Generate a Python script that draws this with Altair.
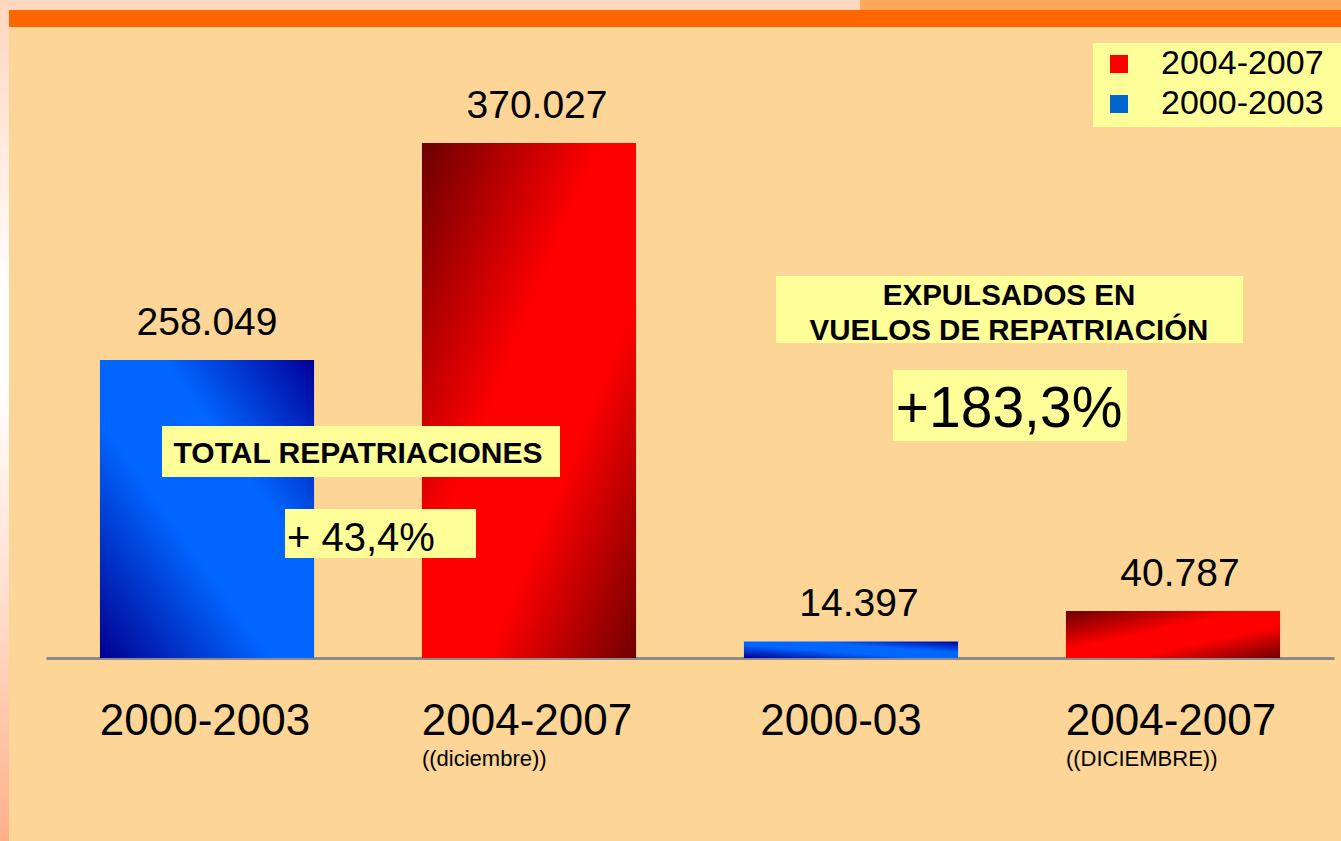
import altair as alt
import pandas as pd

FONT = "Liberation Sans, Arial, sans-serif"

# ---- data ----
cat_labels = ["2000-2003", "2004-2007", "2000-03", "2004-2007"]
cat_notes = ["", "((diciembre))", "", "((DICIEMBRE))"]
periods = ["2000-2003", "2004-2007", "2000-2003", "2004-2007"]
groups = ["total", "total", "vuelos", "vuelos"]
values = [258049, 370027, 14397, 40787]

legend_periods = ["2004-2007", "2000-2003"]
legend_colors = ["#FF0000", "#0066CC"]

group_titles = ["TOTAL REPATRIACIONES", ["EXPULSADOS EN", "VUELOS DE REPATRIACIÓN"]]
group_changes = ["+ 43,4%", "+183,3%"]

keys = [f"{a}|{b}|{i}" for i, (a, b) in enumerate(zip(cat_labels, cat_notes))]

df = pd.DataFrame({
    "key": keys,
    "label": cat_labels,
    "note": cat_notes,
    "period": periods,
    "group": groups,
    "value": values,
})

# value scales (the two groups are drawn at different scales in the original)
domains = {"total": [104278, 443824], "vuelos": [0, 572000]}

blue_grad = alt.LinearGradient(
    gradient="linear", x1=0, y1=1, x2=1, y2=0,
    stops=[alt.GradientStop(color="#000090", offset=0),
           alt.GradientStop(color="#0066FF", offset=0.4),
           alt.GradientStop(color="#0066FF", offset=0.65),
           alt.GradientStop(color="#000099", offset=1)])
red_grad = alt.LinearGradient(
    gradient="linear", x1=0, y1=0, x2=1, y2=1,
    stops=[alt.GradientStop(color="#6B0000", offset=0),
           alt.GradientStop(color="#FF0000", offset=0.42),
           alt.GradientStop(color="#FF0000", offset=0.65),
           alt.GradientStop(color="#700000", offset=1)])
grads = {"2000-2003": blue_grad, "2004-2007": red_grad}

x_axis = alt.Axis(title=None, labelExpr="split(datum.value, '|')[0]",
                  labelAngle=0, labelFontSize=44, labelFont=FONT, labelColor="black",
                  labelBaseline="alphabetic", labelPadding=76, ticks=False, tickSize=0,
                  labelOffset={"condition": {"test": f"datum.value == '{keys[2]}'", "value": -10},
                               "value": -2},
                  grid=False, domainColor="#8A8A8A", domainWidth=3, labelLimit=0,
                  labelOverlap=False)
x_scale = alt.Scale(domain=keys, paddingInner=0.335, paddingOuter=0.1675)


def x_enc(**kw):
    return alt.X("key:N", sort=keys, scale=x_scale, axis=x_axis, **kw)


base = alt.Chart(df).transform_calculate(
    txt="replace(format(datum.value, ','), ',', '.')")

one = pd.DataFrame({"k": [0]})


def deco_rect(x, x2, y, y2, color):
    return alt.Chart(one).mark_rect(x=x, x2=x2, y=y, y2=y2, color=color).encode(
        opacity=alt.value(1))


left_grad = alt.LinearGradient(
    gradient="linear", x1=0, y1=0, x2=0, y2=1,
    stops=[alt.GradientStop(color="#FFD6BE", offset=0),
           alt.GradientStop(color="#FFFFFF", offset=0.35),
           alt.GradientStop(color="#FFFFFF", offset=0.45),
           alt.GradientStop(color="#FFE0CF", offset=0.7),
           alt.GradientStop(color="#FFB08A", offset=1)])

layers = [
    deco_rect(-46, 814, 0, 10, "#FFD8C2"),
    deco_rect(814, 1295, 0, 10, "#FFAA5A"),
    deco_rect(-46, -37, 0, 841, left_grad),
    deco_rect(-37, 1295, 10, 27, "#FF6600"),
]

dxs = {("total", "2000-2003"): 0, ("total", "2004-2007"): 8,
       ("vuelos", "2000-2003"): 8, ("vuelos", "2004-2007"): 7}

for g in ["total", "vuelos"]:
    for p in ["2000-2003", "2004-2007"]:
        sub = base.transform_filter(f"datum.group == '{g}' && datum.period == '{p}'")
        y_enc = alt.Y("value:Q", scale=alt.Scale(domain=domains[g], zero=(g == "vuelos"),
                                                  nice=False, clamp=True),
                      axis=None)
        layers.append(sub.mark_bar(color=grads[p]).encode(x=x_enc(), y=y_enc))
        layers.append(sub.mark_text(baseline="alphabetic", dy=-25, dx=dxs[(g, p)], fontSize=39,
                                    font=FONT, color="black").encode(x=x_enc(), y=y_enc, text="txt:N"))

# notes under the category labels
layers.append(base.transform_filter("datum.note != ''").mark_text(
    align="left", baseline="alphabetic", fontSize=22, font=FONT, color="black", y=766
).encode(x=x_enc(bandPosition=0), text="note:N"))

BOX = "#FFFF99"
# annotation boxes
layers += [
    deco_rect(116, 514, 426, 477, BOX),
    deco_rect(239, 430, 509, 558, BOX),
    deco_rect(730, 1197, 276, 343, BOX),
    deco_rect(847, 1081, 370, 441, BOX),
    deco_rect(1047, 1295, 43, 127, BOX),
]


def note_text(text, x, y, size, weight="normal", align="center", lh=None):
    kw = dict(text=text, x=x, y=y, fontSize=size, fontWeight=weight, align=align,
              baseline="alphabetic", font=FONT, color="black")
    if lh:
        kw["lineHeight"] = lh
    return alt.Chart(one).mark_text(**kw).encode(opacity=alt.value(1))


layers += [
    note_text(group_titles[0], 312, 463, 30, "bold"),
    note_text(group_changes[0], 241, 551, 40, align="left"),
    note_text(group_titles[1], 963, 305, 29.5, "bold", lh=35),
    note_text(group_changes[1], 963, 427, 57),
]

legend_layer = alt.Chart(df).transform_filter("false").mark_square(filled=True, opacity=1).encode(
    color=alt.Color("period:N",
                    scale=alt.Scale(domain=legend_periods, range=legend_colors),
                    legend=alt.Legend(title=None, orient="none", legendX=1056, legendY=47,
                                      symbolType="square", symbolSize=324, symbolStrokeWidth=0,
                                      symbolOpacity=1, labelLimit=400,
                                      labelFontSize=34, labelFont=FONT, labelColor="black",
                                      labelOffset=25, rowPadding=6, padding=0)))
layers.append(legend_layer)

chart = alt.layer(*layers).resolve_scale(y="independent").properties(
    width=1288, height=658,
    autosize=alt.AutoSizeParams(type="none"),
    padding={"left": 46, "top": 0, "right": 7, "bottom": 183},
    background="#FDD597",
).configure_view(stroke=None)

chart.save("out.html", embed_options={"renderer": "svg", "actions": False})
